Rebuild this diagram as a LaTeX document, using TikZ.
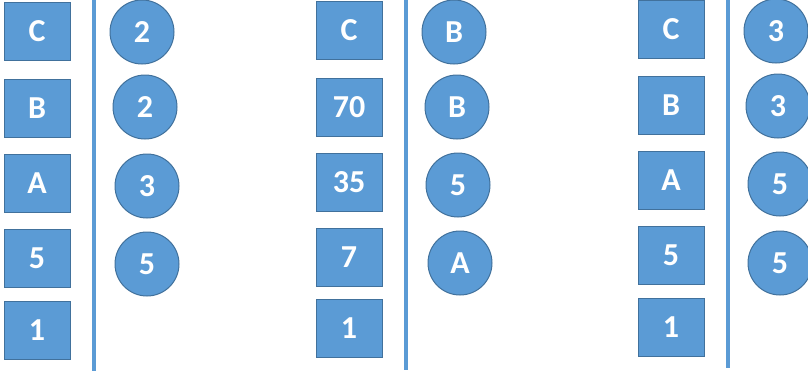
\documentclass[tikz,border=0pt]{standalone}
\usepackage{fontspec}
\setmainfont{Carlito}
\definecolor{boxF}{RGB}{91,155,213}
\definecolor{boxD}{RGB}{65,113,156}

\begin{document}
\begin{tikzpicture}[x=1pt,y=-1pt,
  sq/.style={draw=boxD,fill=boxF,line width=0.9pt,minimum width=66pt,minimum height=58pt,inner sep=0pt,text=white,font=\fontsize{32}{34}\selectfont\bfseries},
  ci/.style={circle,draw=boxD,fill=boxF,line width=1pt,minimum size=64pt,inner sep=0pt,text=white,font=\fontsize{32}{34}\selectfont\bfseries},
  bar/.style={boxF,line width=4pt}]
\useasboundingbox (0,0) rectangle (808,381);
\clip (0,0) rectangle (808,381);
% first stack
\foreach \i/\y/\t in {1/31.5/C,2/108/B,3/183/A,4/258/5,5/330/1}
  \node[sq] (a\i) at (37,\y) {\t};
\foreach \i/\x/\y/\t in {1/142/32/2,2/145/107/2,3/147/186/3,4/147/264/5}
  \node[ci] (p\i) at (\x,\y) {\t};
\draw[bar] (94,0) -- (94,371);
% second stack
\foreach \i/\y/\t in {1/30/C,2/107.5/70,3/182/35,4/257/7,5/328.5/1}
  \node[sq] (b\i) at (349,\y) {\t};
\foreach \i/\x/\y/\t in {1/454/32/B,2/457/107/B,3/458/185/5,4/460/263/A}
  \node[ci] (q\i) at (\x,\y) {\t};
\draw[bar] (406,0) -- (406,370);
% third stack
\foreach \i/\y/\t in {1/29/C,2/105.5/B,3/180.5/A,4/255.5/5,5/327.5/1}
  \node[sq] (c\i) at (671,\y) {\t};
\foreach \i/\x/\y/\t in {1/776/31/3,2/778/106/3,3/780/184/5,4/780/263/5}
  \node[ci] (r\i) at (\x,\y) {\t};
\draw[bar] (728,0) -- (728,368);
\end{tikzpicture}
\end{document}
